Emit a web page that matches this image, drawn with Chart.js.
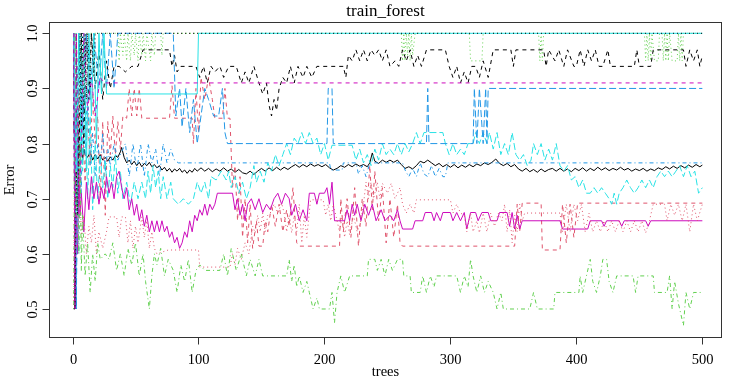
<!DOCTYPE html>
<html><head><meta charset="utf-8">
<script src="https://cdn.jsdelivr.net/npm/chart.js@4.4.1/dist/chart.umd.min.js"></script>
<style>html,body{margin:0;padding:0;background:#fff;}</style>
</head><body><canvas id="c" width="729" height="379"></canvas>
<script>
const chartTitle = "train_forest";
const xLabel = "trees";
const yLabel = "Error";
const xTicks = [0, 100, 200, 300, 400, 500];
const yTicks = [0.5, 0.6, 0.7, 0.8, 0.9, 1.0];
const yTickLabels = ["0.5", "0.6", "0.7", "0.8", "0.9", "1.0"];

// [tree, error] pairs
const oob = [[1,0.84],[2,0.8],[3,0.86],[4,0.82],[5,0.8],[6,0.78],[7,0.8],[8,0.77],[9,0.79],[10,0.78],[12,0.775],[14,0.785],[16,0.77],[18,0.78],[20,0.772],[22,0.78],[24,0.77],[26,0.775],[28,0.768],[30,0.776],[32,0.77],[34,0.778],[36,0.775],[38,0.785],[39,0.793],[41,0.775],[43,0.765],[45,0.77],[47,0.762],[49,0.768],[51,0.76],[53,0.766],[55,0.758],[57,0.764],[59,0.76],[61,0.766],[63,0.758],[65,0.762],[67,0.756],[69,0.76],[71,0.752],[73,0.757],[75,0.75],[77,0.755],[79,0.748],[81,0.754],[83,0.75],[85,0.755],[87,0.748],[89,0.752],[91,0.746],[93,0.752],[95,0.748],[97,0.755],[99,0.75],[102,0.756],[105,0.75],[108,0.755],[111,0.749],[114,0.754],[117,0.75],[120,0.756],[123,0.75],[126,0.754],[129,0.748],[132,0.753],[135,0.747],[138,0.745],[141,0.75],[144,0.744],[147,0.75],[150,0.755],[153,0.75],[156,0.756],[159,0.751],[162,0.757],[165,0.752],[168,0.757],[171,0.753],[174,0.758],[177,0.762],[180,0.757],[183,0.762],[186,0.758],[189,0.763],[192,0.759],[195,0.762],[198,0.758],[201,0.762],[204,0.756],[207,0.752],[210,0.755],[213,0.76],[216,0.757],[219,0.762],[222,0.758],[225,0.763],[228,0.759],[231,0.762],[234,0.758],[236,0.765],[238,0.783],[240,0.768],[243,0.764],[246,0.77],[249,0.766],[252,0.77],[255,0.766],[258,0.77],[261,0.762],[264,0.755],[267,0.758],[270,0.754],[273,0.76],[276,0.768],[279,0.765],[282,0.77],[285,0.765],[288,0.76],[291,0.764],[294,0.758],[297,0.762],[300,0.757],[303,0.762],[306,0.756],[309,0.761],[312,0.757],[315,0.762],[318,0.758],[321,0.763],[324,0.76],[327,0.765],[330,0.762],[333,0.766],[336,0.772],[339,0.764],[342,0.76],[345,0.764],[348,0.758],[351,0.762],[354,0.754],[357,0.75],[360,0.755],[363,0.749],[366,0.753],[369,0.748],[372,0.754],[375,0.749],[378,0.753],[381,0.755],[384,0.75],[387,0.755],[390,0.75],[393,0.754],[396,0.749],[399,0.755],[402,0.751],[405,0.756],[408,0.75],[411,0.755],[414,0.751],[417,0.757],[420,0.752],[423,0.756],[426,0.751],[429,0.755],[432,0.752],[435,0.757],[438,0.752],[441,0.755],[444,0.75],[447,0.754],[450,0.751],[453,0.755],[456,0.75],[459,0.754],[462,0.751],[465,0.756],[468,0.753],[471,0.758],[474,0.754],[477,0.759],[480,0.755],[483,0.76],[486,0.756],[489,0.761],[492,0.757],[495,0.762],[498,0.758],[500,0.761]];

const cls1 = [[1,1],[2,0.5],[3,0.8],[4,0.67],[5,0.9],[6,0.75],[8,0.83],[10,0.73],[12,0.86],[14,0.76],[16,0.9],[18,0.8],[20,0.85],[22,0.7],[24,0.84],[26,0.67],[28,0.84],[30,0.78],[32,0.85],[34,0.78],[36,0.84],[38,0.79],[40,0.85],[43,0.846],[45,0.9],[47,0.85],[49,0.9],[51,0.85],[53,0.9],[55,0.846],[77,0.846],[79,0.905],[81,0.846],[95,0.846],[96,0.8],[98,0.9],[100,0.82],[102,0.92],[105,0.88],[108,0.92],[111,0.88],[113,0.846],[119,0.846],[121,0.9],[123,0.846],[125,0.846],[127,0.72],[129,0.76],[131,0.66],[133,0.74],[135,0.63],[137,0.7],[139,0.62],[141,0.69],[143,0.61],[146,0.66],[148,0.614],[151,0.614],[153,0.66],[155,0.64],[158,0.69],[161,0.65],[164,0.69],[167,0.64],[170,0.68],[172,0.65],[175,0.72],[178,0.62],[180,0.614],[212,0.614],[213,0.7],[215,0.64],[218,0.7],[221,0.63],[224,0.72],[227,0.614],[230,0.7],[233,0.65],[236,0.76],[238,0.68],[240,0.75],[243,0.66],[246,0.72],[249,0.62],[252,0.7],[255,0.63],[258,0.69],[260,0.62],[262,0.614],[351,0.614],[353,0.69],[355,0.64],[357,0.692],[372,0.692],[373,0.607],[387,0.607],[389,0.69],[392,0.62],[395,0.69],[398,0.63],[401,0.692],[500,0.692]];

const cls2 = [[1,1],[3,0.67],[5,1],[8,0.9],[10,1],[36,1],[37,0.95],[38,1],[40,0.96],[41,1],[43,0.95],[44,1],[46,0.95],[47,1],[49,0.96],[50,1],[52,0.95],[53,1],[55,0.96],[56,1],[58,0.95],[59,1],[62,0.95],[63,1],[65,0.96],[66,1],[70,1],[71,0.96],[72,1],[261,1],[262,0.95],[263,1],[264,0.95],[265,1],[266,0.96],[267,1],[268,0.95],[269,1],[270,0.96],[272,1],[315,1],[316,0.95],[325,0.95],[326,1],[370,1],[371,0.95],[372,1],[373,0.95],[374,1],[454,1],[455,0.95],[456,1],[457,0.95],[458,1],[459,0.95],[460,1],[462,0.95],[465,0.95],[466,1],[468,1],[469,0.95],[470,1],[471,0.95],[472,1],[473,0.95],[474,1],[476,0.95],[480,0.95],[481,1],[482,0.95],[483,1],[484,0.95],[485,1],[500,1]];

const cls3 = [[1,1],[2,0.67],[3,0.5],[4,0.8],[5,0.6],[6,0.83],[7,0.71],[8,0.875],[10,0.78],[12,0.9],[14,0.76],[16,0.82],[18,0.74],[20,0.8],[22,0.76],[24,0.82],[26,0.75],[28,0.79],[30,0.76],[33,0.8],[36,0.77],[40,0.79],[42,0.8],[45,0.74],[48,0.8],[51,0.75],[54,0.8],[57,0.74],[60,0.8],[63,0.765],[66,0.79],[69,0.74],[72,0.8],[75,0.765],[78,0.79],[81,0.77],[84,0.765],[204,0.765],[205,0.752],[214,0.752],[215,0.765],[225,0.765],[227,0.745],[230,0.76],[233,0.74],[236,0.765],[262,0.765],[264,0.752],[267,0.74],[270,0.755],[273,0.74],[276,0.765],[279,0.745],[282,0.74],[285,0.76],[288,0.74],[291,0.755],[294,0.74],[296,0.74],[298,0.765],[500,0.765]];

const cls4 = [[1,1],[2,0.5],[3,1],[4,0.67],[5,0.8],[6,0.7],[7,1],[8,0.75],[10,0.9],[12,0.7],[14,0.85],[16,0.68],[18,0.8],[20,0.7],[22,0.78],[24,0.72],[26,0.77],[28,0.7],[30,0.76],[32,0.72],[34,0.78],[36,0.71],[38,0.75],[40,0.7],[43,0.73],[46,0.69],[49,0.73],[52,0.7],[55,0.73],[58,0.7],[60,0.75],[62,0.71],[64,0.76],[66,0.72],[68,0.75],[70,0.7],[72,0.74],[75,0.7],[78,0.73],[80,0.7],[84,0.69],[88,0.7],[92,0.69],[96,0.7],[99,0.73],[102,0.71],[105,0.73],[108,0.7],[110,0.74],[114,0.734],[118,0.75],[122,0.734],[124,0.75],[126,0.72],[129,0.74],[132,0.71],[135,0.73],[138,0.7],[141,0.72],[144,0.76],[146,0.73],[149,0.75],[152,0.73],[155,0.765],[158,0.75],[161,0.78],[164,0.76],[167,0.78],[170,0.8],[173,0.78],[176,0.81],[179,0.8],[182,0.82],[185,0.8],[188,0.82],[191,0.8],[194,0.81],[197,0.78],[200,0.8],[203,0.77],[206,0.797],[222,0.797],[225,0.77],[228,0.79],[231,0.765],[234,0.78],[237,0.76],[240,0.79],[243,0.77],[246,0.8],[249,0.78],[252,0.79],[255,0.78],[258,0.8],[261,0.78],[264,0.8],[267,0.785],[270,0.8],[273,0.82],[276,0.8],[279,0.82],[282,0.82],[294,0.82],[296,0.8],[299,0.78],[302,0.8],[305,0.78],[308,0.79],[311,0.78],[314,0.8],[318,0.8],[320,0.82],[323,0.8],[326,0.82],[329,0.8],[331,0.82],[334,0.79],[337,0.82],[340,0.78],[343,0.8],[346,0.78],[349,0.82],[352,0.78],[355,0.77],[358,0.78],[361,0.76],[364,0.77],[366,0.8],[369,0.78],[372,0.8],[375,0.77],[378,0.79],[381,0.77],[384,0.8],[387,0.76],[390,0.75],[393,0.76],[396,0.734],[399,0.74],[402,0.72],[405,0.734],[408,0.71],[411,0.71],[414,0.72],[417,0.71],[420,0.72],[423,0.71],[426,0.7],[428,0.69],[430,0.71],[432,0.69],[434,0.71],[437,0.72],[440,0.734],[443,0.72],[446,0.71],[449,0.72],[452,0.734],[455,0.72],[458,0.734],[461,0.72],[464,0.74],[467,0.75],[470,0.74],[473,0.75],[476,0.74],[479,0.75],[482,0.76],[485,0.74],[488,0.76],[491,0.74],[494,0.75],[497,0.71],[500,0.72]];

const cls5 = [[1,1],[2,0.5],[3,0.67],[4,0.6],[5,0.75],[6,0.67],[7,0.71],[9,0.64],[11,0.73],[13,0.68],[15,0.74],[17,0.7],[19,0.73],[21,0.69],[23,0.72],[25,0.7],[27,0.74],[29,0.71],[31,0.73],[33,0.7],[35,0.74],[37,0.75],[39,0.72],[41,0.7],[43,0.72],[45,0.68],[47,0.7],[49,0.67],[51,0.69],[53,0.66],[55,0.68],[57,0.65],[59,0.67],[61,0.64],[63,0.66],[65,0.64],[67,0.66],[69,0.64],[71,0.66],[73,0.64],[75,0.65],[77,0.63],[79,0.64],[81,0.62],[83,0.63],[85,0.61],[87,0.62],[89,0.64],[91,0.63],[93,0.66],[95,0.64],[97,0.67],[99,0.66],[101,0.68],[103,0.67],[105,0.69],[107,0.67],[109,0.69],[111,0.68],[113,0.69],[115,0.71],[127,0.71],[129,0.68],[131,0.7],[133,0.67],[135,0.69],[137,0.66],[139,0.69],[142,0.7],[145,0.68],[148,0.7],[151,0.675],[154,0.69],[157,0.68],[160,0.7],[163,0.71],[166,0.69],[169,0.71],[172,0.7],[174,0.67],[177,0.69],[180,0.66],[183,0.68],[186,0.66],[188,0.71],[192,0.71],[194,0.69],[196,0.71],[200,0.71],[202,0.72],[204,0.69],[206,0.73],[208,0.66],[216,0.66],[218,0.68],[220,0.66],[222,0.69],[224,0.67],[226,0.69],[229,0.66],[232,0.69],[235,0.67],[238,0.69],[241,0.66],[245,0.68],[248,0.66],[252,0.67],[255,0.66],[258,0.68],[260,0.66],[262,0.645],[270,0.645],[272,0.66],[278,0.66],[280,0.675],[285,0.675],[287,0.66],[289,0.675],[292,0.66],[294,0.675],[300,0.675],[302,0.66],[305,0.675],[308,0.66],[311,0.675],[313,0.645],[316,0.675],[320,0.675],[322,0.66],[325,0.675],[330,0.675],[332,0.66],[337,0.66],[339,0.675],[345,0.675],[347,0.65],[349,0.675],[351,0.645],[353,0.67],[355,0.645],[357,0.66],[387,0.66],[389,0.645],[409,0.645],[411,0.66],[420,0.66],[422,0.65],[424,0.66],[434,0.66],[436,0.65],[438,0.66],[455,0.66],[457,0.65],[459,0.66],[500,0.66]];

const cls6 = [[1,1],[2,0.5],[3,1],[5,0.75],[7,1],[9,0.8],[11,1],[13,0.88],[15,1],[18,0.9],[21,0.97],[24,0.88],[27,0.95],[30,0.9],[33,0.94],[37,0.94],[42,0.93],[47,0.94],[52,0.94],[56,0.97],[77,0.97],[79,0.94],[81,0.96],[83,0.93],[86,0.94],[98,0.94],[101,0.92],[104,0.94],[107,0.91],[110,0.94],[113,0.93],[117,0.94],[120,0.92],[124,0.94],[130,0.94],[134,0.91],[137,0.93],[140,0.91],[144,0.94],[148,0.91],[151,0.89],[154,0.91],[156,0.87],[158,0.85],[160,0.88],[162,0.86],[164,0.9],[167,0.92],[170,0.91],[173,0.94],[176,0.91],[179,0.94],[183,0.92],[186,0.94],[190,0.92],[194,0.94],[215,0.94],[217,0.92],[219,0.96],[222,0.95],[225,0.97],[228,0.95],[231,0.97],[234,0.95],[237,0.97],[240,0.96],[243,0.97],[246,0.95],[249,0.97],[252,0.94],[256,0.95],[259,0.94],[262,0.97],[265,0.95],[268,0.97],[271,0.94],[274,0.96],[277,0.94],[281,0.97],[296,0.97],[299,0.94],[302,0.92],[305,0.94],[308,0.91],[311,0.93],[314,0.91],[317,0.94],[320,0.94],[323,0.92],[326,0.95],[330,0.92],[334,0.97],[348,0.97],[350,0.94],[352,0.97],[374,0.97],[376,0.94],[378,0.97],[383,0.95],[386,0.97],[390,0.94],[393,0.97],[398,0.94],[400,0.94],[403,0.97],[406,0.94],[409,0.97],[412,0.95],[415,0.97],[418,0.94],[421,0.94],[425,0.97],[427,0.94],[446,0.94],[448,0.97],[450,0.94],[459,0.94],[461,0.97],[485,0.97],[487,0.94],[490,0.97],[493,0.95],[496,0.97],[498,0.94],[500,0.96]];

const cls7 = [[1,0.5],[2,1],[3,0.6],[5,0.8],[7,0.63],[9,0.67],[11,0.6],[13,0.65],[15,0.62],[17,0.67],[19,0.6],[21,0.64],[24,0.61],[27,0.64],[29,0.667],[35,0.667],[37,0.63],[39,0.667],[42,0.667],[44,0.62],[46,0.66],[48,0.61],[50,0.65],[52,0.62],[55,0.667],[57,0.63],[59,0.66],[61,0.61],[63,0.64],[65,0.61],[67,0.6],[76,0.607],[100,0.607],[101,0.576],[125,0.576],[127,0.6],[129,0.58],[131,0.61],[134,0.59],[137,0.62],[140,0.6],[143,0.65],[145,0.638],[147,0.67],[149,0.64],[151,0.674],[153,0.64],[155,0.67],[157,0.674],[160,0.69],[163,0.674],[166,0.692],[168,0.674],[170,0.64],[172,0.67],[174,0.638],[176,0.67],[178,0.64],[180,0.69],[182,0.62],[184,0.67],[186,0.63],[189,0.698],[199,0.698],[201,0.67],[203,0.69],[205,0.66],[207,0.69],[210,0.66],[212,0.64],[214,0.67],[216,0.63],[218,0.66],[220,0.635],[223,0.67],[226,0.64],[229,0.66],[231,0.69],[233,0.73],[235,0.7],[237,0.73],[239,0.7],[242,0.73],[244,0.7],[246,0.728],[250,0.71],[253,0.728],[256,0.7],[260,0.72],[262,0.69],[265,0.674],[268,0.69],[271,0.674],[273,0.698],[300,0.698],[302,0.674],[305,0.69],[308,0.674],[311,0.67],[313,0.64],[316,0.674],[318,0.64],[321,0.66],[323,0.638],[326,0.674],[329,0.64],[332,0.674],[335,0.65],[338,0.674],[341,0.66],[343,0.69],[345,0.64],[347,0.68],[349,0.62],[351,0.67],[353,0.64],[355,0.69],[357,0.66],[359,0.674],[387,0.674],[389,0.64],[392,0.69],[395,0.64],[398,0.69],[401,0.66],[404,0.69],[407,0.64],[410,0.674],[413,0.64],[416,0.66],[419,0.64],[422,0.66],[425,0.64],[428,0.66],[431,0.64],[434,0.66],[437,0.64],[440,0.66],[443,0.64],[446,0.66],[449,0.64],[452,0.66],[455,0.638],[458,0.66],[461,0.69],[470,0.69],[472,0.66],[475,0.69],[478,0.67],[481,0.69],[484,0.66],[487,0.69],[490,0.64],[493,0.69],[496,0.66],[500,0.69]];

const cls8 = [[1,0.5],[2,1],[3,0.67],[4,0.75],[5,0.6],[6,0.8],[7,0.57],[8,0.67],[10,0.56],[12,0.62],[14,0.53],[16,0.6],[18,0.55],[20,0.62],[22,0.59],[26,0.6],[29,0.59],[32,0.62],[35,0.57],[38,0.6],[41,0.56],[44,0.61],[47,0.58],[50,0.62],[53,0.56],[56,0.6],[58,0.55],[61,0.5],[63,0.56],[65,0.6],[67,0.58],[70,0.61],[73,0.56],[76,0.59],[80,0.57],[83,0.53],[86,0.58],[89,0.55],[92,0.59],[95,0.53],[98,0.57],[101,0.58],[105,0.57],[117,0.57],[120,0.6],[123,0.56],[126,0.61],[130,0.57],[134,0.6],[138,0.56],[141,0.59],[145,0.56],[148,0.59],[151,0.56],[170,0.56],[172,0.59],[174,0.55],[176,0.58],[178,0.54],[180,0.56],[183,0.53],[186,0.55],[188,0.53],[191,0.5],[194,0.52],[196,0.5],[204,0.5],[206,0.53],[208,0.475],[210,0.53],[213,0.56],[216,0.53],[220,0.56],[234,0.56],[235,0.59],[240,0.59],[242,0.57],[245,0.59],[248,0.56],[251,0.59],[254,0.57],[258,0.59],[262,0.59],[263,0.56],[268,0.56],[269,0.53],[276,0.53],[278,0.56],[281,0.53],[284,0.56],[287,0.54],[289,0.56],[305,0.56],[308,0.53],[311,0.56],[314,0.54],[316,0.59],[318,0.56],[321,0.53],[324,0.56],[327,0.53],[330,0.55],[334,0.53],[337,0.5],[340,0.53],[342,0.5],[363,0.5],[366,0.53],[369,0.5],[382,0.5],[383,0.53],[402,0.53],[403,0.56],[405,0.53],[411,0.59],[413,0.55],[416,0.53],[419,0.56],[421,0.59],[424,0.59],[426,0.55],[429,0.53],[432,0.56],[435,0.56],[445,0.56],[447,0.53],[449,0.56],[461,0.56],[462,0.53],[472,0.53],[474,0.56],[476,0.5],[478,0.55],[481,0.51],[485,0.47],[487,0.53],[490,0.5],[493,0.53],[500,0.53]];

const cls9 = [[1,1],[3,0.5],[5,1],[8,0.83],[11,1],[14,0.88],[17,1],[21,0.9],[24,1],[27,0.9],[30,1],[33,0.9],[36,1],[80,1],[82,0.85],[85,0.9],[87,0.83],[90,0.9],[93,0.82],[96,0.88],[99,0.8],[102,0.85],[105,0.9],[108,0.88],[112,0.85],[116,0.85],[119,0.9],[121,0.82],[123,0.8],[202,0.8],[203,0.9],[206,0.9],[207,0.8],[281,0.8],[282,0.9],[283,0.8],[318,0.8],[319,0.9],[321,0.8],[323,0.9],[326,0.8],[328,0.9],[329,0.8],[330,0.9],[500,0.9]];

const cls10 = [[1,1],[3,0.75],[5,1],[7,0.8],[9,1],[11,0.75],[13,1],[15,0.85],[17,1],[19,0.8],[21,1],[23,0.89],[25,1],[27,0.89],[99,0.89],[100,1],[500,1]];

const cls11 = [[1,1],[2,0.5],[3,1],[5,0.67],[7,0.8],[9,1],[12,0.86],[15,0.92],[18,0.85],[22,0.92],[25,0.91],[500,0.91]];

const cls12 = [[1,0.5],[2,0.5],[3,0.75],[4,0.67],[5,0.8],[6,1],[7,0.83],[8,1],[9,0.86],[10,1],[11,0.88],[12,1],[14,0.9],[15,1],[17,0.92],[18,1],[500,1]];

const seriesList = [oob, cls1, cls2, cls3, cls4, cls5, cls6, cls7, cls8, cls9, cls10, cls11, cls12];
const palette = ["#000000", "#DF536B", "#61D04F", "#2297E6", "#28E2E5", "#CD0BBC"];
const dashes = [[], [4, 4], [1, 3], [1, 3, 4, 3], [7, 3]];

const datasets = seriesList.map((s, i) => ({
  data: s.map(p => ({x: p[0], y: p[1]})),
  borderColor: palette[i % 6],
  borderDash: dashes[i % 5],
  borderWidth: 1,
  pointRadius: 0,
  tension: 0,
  fill: false,
  showLine: true,
  order: seriesList.length - i
}));

const SERIF = "'Liberation Serif', 'DejaVu Serif', serif";

const framePlugin = {
  id: 'frame',
  afterDraw(chart) {
    const {ctx, chartArea: a, scales: {x, y}} = chart;
    ctx.save();
    ctx.strokeStyle = '#333';
    ctx.lineWidth = 1;
    ctx.setLineDash([]);
    ctx.strokeRect(Math.round(a.left) + 0.5, Math.round(a.top) + 0.5,
                   Math.round(a.right - a.left) - 1, Math.round(a.bottom - a.top) - 1);
    ctx.fillStyle = '#000';
    ctx.font = '14.5px ' + SERIF;
    ctx.textAlign = 'center';
    ctx.textBaseline = 'alphabetic';
    const bottom = Math.round(a.bottom) - 0.5;
    xTicks.forEach(v => {
      const px = Math.round(x.getPixelForValue(v)) + 0.5;
      ctx.beginPath(); ctx.moveTo(px, bottom); ctx.lineTo(px, bottom + 7); ctx.stroke();
      ctx.fillText(String(v), px, 363.5);
    });
    const left = Math.round(a.left) + 0.5;
    yTicks.forEach((v, k) => {
      const py = Math.round(y.getPixelForValue(v)) + 0.5;
      ctx.beginPath(); ctx.moveTo(left, py); ctx.lineTo(left - 7, py); ctx.stroke();
      ctx.save();
      ctx.translate(36.5, py);
      ctx.rotate(-Math.PI / 2);
      ctx.fillText(yTickLabels[k], 0, 0);
      ctx.restore();
    });
    const cx = (a.left + a.right) / 2;
    ctx.fillText(xLabel, cx, 375.5);
    ctx.save();
    ctx.translate(13.5, (a.top + a.bottom) / 2);
    ctx.rotate(-Math.PI / 2);
    ctx.fillText(yLabel, 0, 0);
    ctx.restore();
    ctx.font = '17px ' + SERIF;
    ctx.fillText(chartTitle, cx, 15.5);
    ctx.restore();
  }
};

new Chart(document.getElementById('c'), {
  type: 'scatter',
  data: {datasets},
  options: {
    responsive: false,
    animation: false,
    devicePixelRatio: 1,
    layout: {padding: {left: 49, top: 22, right: 7, bottom: 41}},
    plugins: {legend: {display: false}, tooltip: {enabled: false}, title: {display: false}},
    elements: {line: {borderCapStyle: 'butt', borderJoinStyle: 'miter'}},
    scales: {
      x: {type: 'linear', display: false, min: -18.66, max: 515.6},
      y: {type: 'linear', display: false, min: 0.4474, max: 1.0205}
    }
  },
  plugins: [framePlugin]
});
</script></body></html>
